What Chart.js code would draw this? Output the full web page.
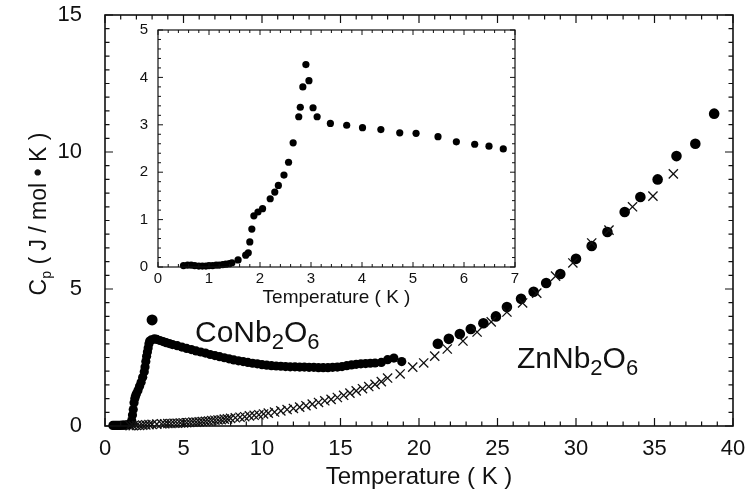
<!DOCTYPE html>
<html>
<head>
<meta charset="utf-8">
<script src="https://cdn.jsdelivr.net/npm/chart.js@4.4.0/dist/chart.umd.min.js"></script>
<style>
  body { margin: 0; background: #fff; }
  #wrap { position: relative; width: 751px; height: 495px; }
  #main { position: absolute; left: 0; top: 0; }
  #inset { position: absolute; left: 120px; top: 20px; }
</style>
</head>
<body>
<div id="wrap">
  <canvas id="main" width="751" height="495"></canvas>
  <canvas id="inset" width="410" height="295"></canvas>
</div>
<script>
// CoNb2O6, low temperature (dense run)
const coT = [
  0.5, 0.6, 0.7, 0.8, 0.9, 1.0, 1.1, 1.2, 1.3, 1.4,
  1.5, 1.6, 1.65, 1.7, 1.75, 1.8, 1.85, 1.9, 1.95, 2.0,
  2.1, 2.2, 2.3, 2.4, 2.5, 2.55, 2.6, 2.65, 2.7, 2.75,
  2.8, 2.85, 3.0, 2.95, 3.15, 3.3, 3.5, 3.7, 3.9, 4.1,
  4.3, 4.6, 4.9, 5.2, 5.5, 5.8, 6.1, 6.4, 6.7, 7.0,
  7.3, 7.6, 7.9, 8.2, 8.5, 8.8, 9.1, 9.4, 9.7, 10.0,
  10.3, 10.6, 10.9, 11.2, 11.5, 11.8, 12.1, 12.4, 12.7, 13.0,
  13.3, 13.6, 13.9, 14.2, 14.5, 14.8, 15.1, 15.4, 15.7, 16.0,
  16.3, 16.6, 16.9, 17.2, 17.6, 18.0, 18.4, 18.9
];
const coCp = [
  0.02, 0.02, 0.02, 0.02, 0.02, 0.02, 0.03, 0.03, 0.03, 0.04,
  0.05, 0.06, 0.1, 0.2, 0.4, 0.6, 0.85, 1.0, 1.1, 1.18,
  1.3, 1.45, 1.6, 1.78, 1.98, 2.15, 2.35, 2.55, 2.7, 2.85,
  3.0, 3.1, 3.87, 3.14, 3.18, 3.16, 3.12, 3.08, 3.04, 3.01,
  2.97, 2.93, 2.88, 2.83, 2.79, 2.74, 2.70, 2.66, 2.61, 2.57,
  2.53, 2.49, 2.45, 2.41, 2.38, 2.35, 2.32, 2.29, 2.27, 2.24,
  2.22, 2.20, 2.19, 2.18, 2.17, 2.16, 2.16, 2.15, 2.15, 2.14,
  2.14, 2.13, 2.13, 2.13, 2.14, 2.15, 2.17, 2.20, 2.23, 2.25,
  2.27, 2.28, 2.29, 2.30, 2.32, 2.42, 2.48, 2.35
];

// CoNb2O6, high temperature run
const coHighT = [21.2, 21.9, 22.6, 23.3, 24.1, 24.9, 25.6, 26.5, 27.3, 28.1,
  29.0, 30.0, 31.0, 32.0, 33.1, 34.1, 35.2, 36.4, 37.6, 38.8];
const coHighCp = [3.0, 3.18, 3.36, 3.54, 3.75, 4.0, 4.34, 4.64, 4.9, 5.22,
  5.55, 6.1, 6.57, 7.08, 7.81, 8.36, 9.0, 9.85, 10.3, 11.4];

// ZnNb2O6 (crosses)
const znT = [
  1.6, 1.8, 2.0, 2.2, 2.4, 2.6, 2.8, 3.0, 3.3, 3.6,
  3.8, 4.0, 4.2, 4.4, 4.6, 4.8, 5.0, 5.2, 5.4, 5.6,
  5.8, 6.0, 6.2, 6.4, 6.6, 6.8, 7.0, 7.2, 7.4, 7.6,
  7.8, 8.0, 8.3, 8.6, 8.9, 9.2, 9.5, 9.8, 10.1, 10.4,
  10.8, 11.2, 11.6, 12.0, 12.4, 12.8, 13.2, 13.6, 14.0, 14.4,
  14.8, 15.2, 15.6, 16.0, 16.4, 16.8, 17.2, 17.6, 18.0, 18.8,
  19.6, 20.3, 21.0, 21.8, 22.8, 23.7, 24.6, 25.6, 26.6, 27.5,
  28.7, 29.8, 31.0, 32.1, 33.6, 34.9, 36.2
];
const znCp = [
  0.01, 0.01, 0.02, 0.02, 0.03, 0.04, 0.05, 0.06, 0.07, 0.08,
  0.08, 0.09, 0.09, 0.10, 0.10, 0.11, 0.11, 0.12, 0.13, 0.14,
  0.14, 0.15, 0.16, 0.17, 0.18, 0.20, 0.21, 0.22, 0.23, 0.25,
  0.26, 0.28, 0.30, 0.32, 0.34, 0.37, 0.39, 0.41, 0.44, 0.47,
  0.51, 0.55, 0.60, 0.64, 0.69, 0.74, 0.80, 0.86, 0.92, 0.97,
  1.04, 1.12, 1.20, 1.28, 1.36, 1.44, 1.52, 1.62, 1.75, 1.90,
  2.15, 2.30, 2.55, 2.81, 3.10, 3.43, 3.80, 4.16, 4.49, 4.85,
  5.47, 5.95, 6.68, 7.15, 8.00, 8.39, 9.20
];

// inset: CoNb2O6 around the transition
const insetT = [0.5, 0.58, 0.65, 0.72, 0.8, 0.87, 0.94, 1.0, 1.07, 1.14,
  1.2, 1.27, 1.33, 1.4, 1.45, 1.57, 1.72, 1.77, 1.8, 1.84,
  1.88, 1.96, 2.05, 2.2, 2.29, 2.36, 2.47, 2.56, 2.65, 2.76,
  2.79, 2.84, 2.9, 2.96, 3.04, 3.12, 3.38, 3.7, 4.01, 4.37,
  4.74, 5.06, 5.49, 5.85, 6.21, 6.49, 6.77];
const insetCp = [0.03, 0.04, 0.04, 0.03, 0.02, 0.02, 0.02, 0.03, 0.03, 0.04,
  0.04, 0.05, 0.06, 0.07, 0.09, 0.15, 0.25, 0.3, 0.53, 0.8,
  1.08, 1.16, 1.23, 1.44, 1.58, 1.72, 1.94, 2.21, 2.62, 3.17,
  3.37, 3.8, 4.27, 3.93, 3.36, 3.17, 3.03, 2.99, 2.94, 2.9,
  2.83, 2.82, 2.75, 2.64, 2.59, 2.55, 2.49];

const FONT = "'Liberation Sans', Arial, Helvetica, sans-serif";
const toPts = (xs, ys) => xs.map((x, i) => ({ x: x, y: ys[i] }));

// box around the plot with inward ticks on all four sides
const frameTicks = {
  id: "frameTicks",
  afterDatasetsDraw(chart, args, o) {
    const ctx = chart.ctx, a = chart.chartArea;
    const xs = chart.scales.x, ys = chart.scales.y;
    ctx.save();
    ctx.strokeStyle = "#111";
    ctx.lineWidth = o.lineWidth;
    ctx.strokeRect(a.left, a.top, a.right - a.left, a.bottom - a.top);
    ctx.lineWidth = o.tickWidth;
    ctx.beginPath();
    let n = Math.round((xs.max - xs.min) / o.minorX);
    for (let i = 0; i <= n; i++) {
      const v = xs.min + i * o.minorX;
      const px = xs.getPixelForValue(v);
      const r = v / o.majorX;
      const len = Math.abs(r - Math.round(r)) < 1e-6 ? o.majorLen : o.minorLen;
      ctx.moveTo(px, a.bottom); ctx.lineTo(px, a.bottom - len);
      ctx.moveTo(px, a.top); ctx.lineTo(px, a.top + len);
    }
    n = Math.round((ys.max - ys.min) / o.minorY);
    for (let i = 0; i <= n; i++) {
      const v = ys.min + i * o.minorY;
      const py = ys.getPixelForValue(v);
      const r = v / o.majorY;
      const len = Math.abs(r - Math.round(r)) < 1e-6 ? o.majorLen : o.minorLen;
      ctx.moveTo(a.left, py); ctx.lineTo(a.left + len, py);
      ctx.moveTo(a.right, py); ctx.lineTo(a.right - len, py);
    }
    ctx.stroke();
    ctx.restore();
  }
};

// text with subscripts: parts = [[text, isSub], ...]
function drawParts(ctx, parts, x, y, big, small, drop) {
  let cx = x;
  parts.forEach(p => {
    ctx.font = (p[1] ? small : big) + "px " + FONT;
    ctx.fillText(p[0], cx, y + (p[1] ? drop : 0));
    cx += ctx.measureText(p[0]).width;
  });
  return cx - x;
}

const mainLabels = {
  id: "mainLabels",
  afterDraw(chart) {
    const ctx = chart.ctx;
    ctx.save();
    ctx.fillStyle = "#111";
    ctx.textBaseline = "alphabetic";
    ctx.textAlign = "left";
    drawParts(ctx, [["CoNb", 0], ["2", 1], ["O", 0], ["6", 1]], 195, 342, 30, 22, 7);
    drawParts(ctx, [["ZnNb", 0], ["2", 1], ["O", 0], ["6", 1]], 517, 368, 30, 22, 7);

    // y axis title, rotated
    const parts = [["C", 0], ["p", 1], [" ( J / mol \u2022 K )", 0]];
    let w = 0;
    parts.forEach(p => {
      ctx.font = (p[1] ? 14 : 23) + "px " + FONT;
      w += ctx.measureText(p[0]).width;
    });
    ctx.translate(40, 214);
    ctx.rotate(-Math.PI / 2);
    ctx.textBaseline = "middle";
    drawParts(ctx, parts, -w / 2, 0, 23, 14, 7);
    ctx.restore();
  }
};

// fixed axis box sizes, and no extra padding from the end labels
function fixX(h) {
  return s => { s.height = h; s.paddingLeft = 0; s.paddingRight = 0; s.paddingTop = 0; s.paddingBottom = 0; };
}
function fixY(w) {
  return s => { s.width = w; s.paddingLeft = 0; s.paddingRight = 0; s.paddingTop = 0; s.paddingBottom = 0; };
}

new Chart(document.getElementById("main"), {
  type: "scatter",
  data: {
    datasets: [{
      data: toPts(znT, znCp),
      pointStyle: "crossRot",
      pointRadius: 6.5,
      borderColor: "#111",
      borderWidth: 1.3,
      backgroundColor: "#111",
      clip: false
    }, {
      data: toPts(coT, coCp),
      pointStyle: "circle",
      pointRadius: c => (c.raw && c.raw.y > 3.5 ? 5.5 : 4.6),
      backgroundColor: "#000",
      borderWidth: 0,
      clip: false
    }, {
      data: toPts(coHighT, coHighCp),
      pointStyle: "circle",
      pointRadius: 5.3,
      backgroundColor: "#000",
      borderWidth: 0,
      clip: false
    }]
  },
  options: {
    responsive: false,
    animation: false,
    layout: { autoPadding: false, padding: { top: 15, right: 18, left: 0, bottom: 0 } },
    plugins: {
      legend: { display: false },
      tooltip: { enabled: false },
      frameTicks: { lineWidth: 1.6, tickWidth: 1.2, minorX: 1, majorX: 5, minorY: 0.5, majorY: 5, majorLen: 8, minorLen: 4.5 }
    },
    scales: {
      x: {
        type: "linear", min: 0, max: 40,
        ticks: { stepSize: 5, padding: 10, color: "#111", font: { family: FONT, size: 22 } },
        grid: { display: false, drawTicks: false },
        border: { display: false },
        title: { display: true, text: "Temperature ( K )", color: "#111", font: { family: FONT, size: 24 }, padding: { top: 2, bottom: 3 } },
        afterFit: fixX(69)
      },
      y: {
        type: "linear", min: 0, max: 15,
        ticks: { stepSize: 5, padding: 23, color: "#111", font: { family: FONT, size: 22 } },
        grid: { display: false, drawTicks: false },
        border: { display: false },
        afterFit: fixY(105)
      }
    }
  },
  plugins: [frameTicks, mainLabels]
});

// Inset
new Chart(document.getElementById("inset"), {
  type: "scatter",
  data: {
    datasets: [{
      data: toPts(insetT, insetCp),
      pointStyle: "circle",
      pointRadius: 3.6,
      backgroundColor: "#000",
      borderWidth: 0,
      clip: false
    }]
  },
  options: {
    responsive: false,
    animation: false,
    layout: { autoPadding: false, padding: { top: 10, right: 15, left: 0, bottom: 0 } },
    plugins: {
      legend: { display: false },
      tooltip: { enabled: false },
      frameTicks: { lineWidth: 1.2, tickWidth: 1, minorX: 0.2, majorX: 1, minorY: 0.2, majorY: 1, majorLen: 5, minorLen: 3 }
    },
    scales: {
      x: {
        type: "linear", min: 0, max: 7,
        ticks: { stepSize: 1, padding: 3, color: "#111", font: { family: FONT, size: 15 } },
        grid: { display: false, drawTicks: false },
        border: { display: false },
        title: { display: true, text: "Temperature ( K )", color: "#111", font: { family: FONT, size: 19 }, padding: { top: 0, bottom: 6 } },
        afterFit: fixX(48)
      },
      y: {
        type: "linear", min: 0, max: 5,
        ticks: { stepSize: 1, padding: 10, color: "#111", font: { family: FONT, size: 15 } },
        grid: { display: false, drawTicks: false },
        border: { display: false },
        afterFit: fixY(38)
      }
    }
  },
  plugins: [frameTicks]
});
</script>
</body>
</html>
